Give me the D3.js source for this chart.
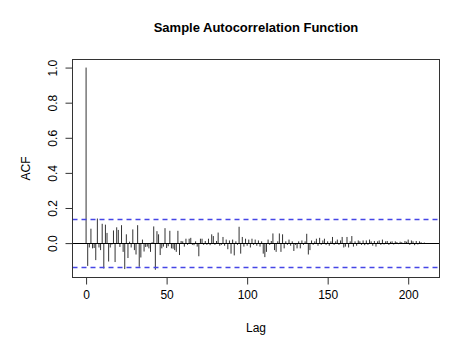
<!DOCTYPE html>
<html>
<head>
<meta charset="utf-8">
<script src="https://cdn.jsdelivr.net/npm/d3@7"></script>
<style>
  body { margin: 0; background: #fff; }
  text { font-family: "Liberation Sans", Arial, Helvetica, sans-serif; fill: #000; }
</style>
</head>
<body>
<svg id="acf-chart" width="471" height="341"></svg>
<script>
// acf values, lag 0..211
const acfValues = [
  1.0, -0.13, -0.025, 0.082, -0.03, -0.028, -0.097, 0.14, -0.025, -0.04,
  0.11, -0.145, 0.105, 0.058, -0.105, -0.025, -0.008, 0.072, -0.108, 0.09,
  0.075, -0.022, 0.102, -0.05, -0.148, 0.05, -0.085, 0.008, -0.025, 0.078,
  -0.04, -0.065, 0.102, -0.135, -0.082, 0.02, -0.048, -0.022, -0.02, -0.03,
  -0.05, 0.005, 0.095, -0.152, 0.068, 0.05, -0.068, -0.03, -0.02, 0.085,
  -0.028, -0.018, 0.07, -0.03, -0.032, -0.04, -0.05, 0.07, -0.068, 0.012,
  0.01, -0.02, 0.025, -0.01, 0.025, 0.03, -0.01, -0.012, 0.01, -0.02,
  -0.075, 0.025, 0.025, -0.01, 0.012, -0.01, 0.025, -0.012, 0.05, 0.04,
  -0.01, 0.012, 0.06, -0.015, -0.01, 0.035, -0.015, 0.02, -0.035, 0.015,
  -0.06, 0.02, -0.07, 0.01, -0.01, 0.093, -0.06, 0.035, -0.02, 0.025,
  -0.015, 0.02, -0.025, 0.025, -0.01, 0.02, -0.015, 0.015, -0.02, 0.01,
  -0.06, -0.08, -0.05, 0.02, -0.01, 0.012, 0.055, -0.04, -0.05, 0.01,
  0.055, -0.05, 0.05, -0.03, 0.01, -0.01, 0.02, -0.015, 0.01, -0.045,
  -0.01, -0.03, 0.01, -0.03, 0.015, -0.01, 0.01, 0.053, -0.065, -0.04,
  0.015, -0.01, 0.01, 0.025, -0.015, 0.03, -0.01, 0.015, 0.025, -0.01,
  0.01, -0.015, 0.01, 0.035, -0.01, 0.01, 0.02, -0.01, 0.015, 0.035,
  -0.025, -0.02, 0.035, -0.025, 0.01, 0.04, -0.02, 0.01, -0.015, 0.015,
  0.01, -0.01, 0.015, -0.012, 0.015, -0.01, 0.02, 0.01, -0.015, 0.012,
  -0.02, 0.01, 0.015, -0.01, 0.02, -0.008, 0.01, 0.012, -0.01, 0.008,
  0.01, -0.008, 0.01, 0.006, -0.006, 0.008, 0.005, -0.005, 0.012, 0.008,
  0.02, -0.01, 0.015, 0.01, -0.012, 0.012, -0.008, 0.01, 0.005, -0.004,
  0.003, -0.002
]
const confBound = 0.135
const xTicks = [0, 50, 100, 150, 200]
const yTicks = [0.0, 0.2, 0.4, 0.6, 0.8, 1.0]
const titleText = 'Sample Autocorrelation Function'

let padLeft = 72.5, padRight = 439.5, padTop = 59.5, padBottom = 277.5
let svg = d3.select('#acf-chart')

let maxLag = acfValues.length - 1
let xScale = d3.scaleLinear().domain([-0.04 * maxLag, 1.04 * maxLag]).range([padLeft, padRight])
let yLo = -0.15, yHi = 1.0
let ySpan = yHi - yLo
let yScale = d3.scaleLinear().domain([yLo - 0.04 * ySpan, yHi + 0.04 * ySpan]).range([padBottom, padTop])

// spikes
svg.append('g').selectAll('line').data(acfValues).join('line')
   .attr('x1', (d, i) => xScale(i)).attr('x2', (d, i) => xScale(i))
   .attr('y1', yScale(0)).attr('y2', d => yScale(d))
   .attr('stroke', '#333').attr('stroke-width', 1)

// zero line
svg.append('line').attr('x1', padLeft).attr('x2', padRight)
   .attr('y1', Math.round(yScale(0)) + 0.5).attr('y2', Math.round(yScale(0)) + 0.5)
   .attr('stroke', '#000').attr('stroke-width', 1)

// confidence bands
for (let b of [confBound, -confBound]) {
  svg.append('path')
     .attr('d', 'M' + padLeft + ',' + (Math.round(yScale(b)) + 0.5) + 'H' + padRight)
     .style('stroke', 'rgb(70, 70, 230)').style('stroke-width', '1.5px')
     .style('stroke-dasharray', '5 4').style('fill', 'none')
}

// box
svg.append('rect').attr('x', padLeft).attr('y', padTop).attr('width', padRight - padLeft).attr('height', padBottom - padTop)
   .attr('fill', 'none').attr('stroke', '#333').attr('stroke-width', 1)

// x axis (R style)
let xAxis = d3.axisBottom(xScale).tickValues(xTicks).tickSize(7).tickPadding(6).tickSizeOuter(0)
let gx = svg.append('g').attr('transform', 'translate(0,' + padBottom + ')').call(xAxis)
gx.select('.domain').attr('d', 'M' + xScale(xTicks[0]) + ',0H' + xScale(xTicks[xTicks.length - 1])).attr('stroke', '#333')
gx.selectAll('.tick line').attr('stroke', '#333')
gx.selectAll('text').style('font-size', '12px').attr('fill', '#000')

// y axis, rotated labels
let yAxis = d3.axisLeft(yScale).tickValues(yTicks).tickSize(7).tickFormat(d3.format('.1f')).tickSizeOuter(0)
let gy = svg.append('g').attr('transform', 'translate(' + padLeft + ',0)').call(yAxis)
gy.select('.domain').attr('d', 'M0,' + yScale(yTicks[0]) + 'V' + yScale(yTicks[yTicks.length - 1])).attr('stroke', '#333')
gy.selectAll('.tick line').attr('stroke', '#333')
gy.selectAll('text')
  .attr('x', null).attr('dy', null)
  .attr('transform', 'translate(-16,0) rotate(-90)')
  .attr('text-anchor', 'middle')
  .style('font-size', '12px').attr('fill', '#000')

// labels
svg.append('text').text(titleText).attr('x', (padLeft + padRight) / 2).attr('y', 32)
   .attr('text-anchor', 'middle').style('font-size', '13px').style('font-weight', 'bold')
svg.append('text').text('Lag').attr('x', (padLeft + padRight) / 2).attr('y', 332)
   .attr('text-anchor', 'middle').style('font-size', '12px')
svg.append('text').text('ACF').attr('transform', 'translate(30,' + ((padTop + padBottom) / 2) + ') rotate(-90)')
   .attr('text-anchor', 'middle').style('font-size', '12px')
</script>
</body>
</html>
